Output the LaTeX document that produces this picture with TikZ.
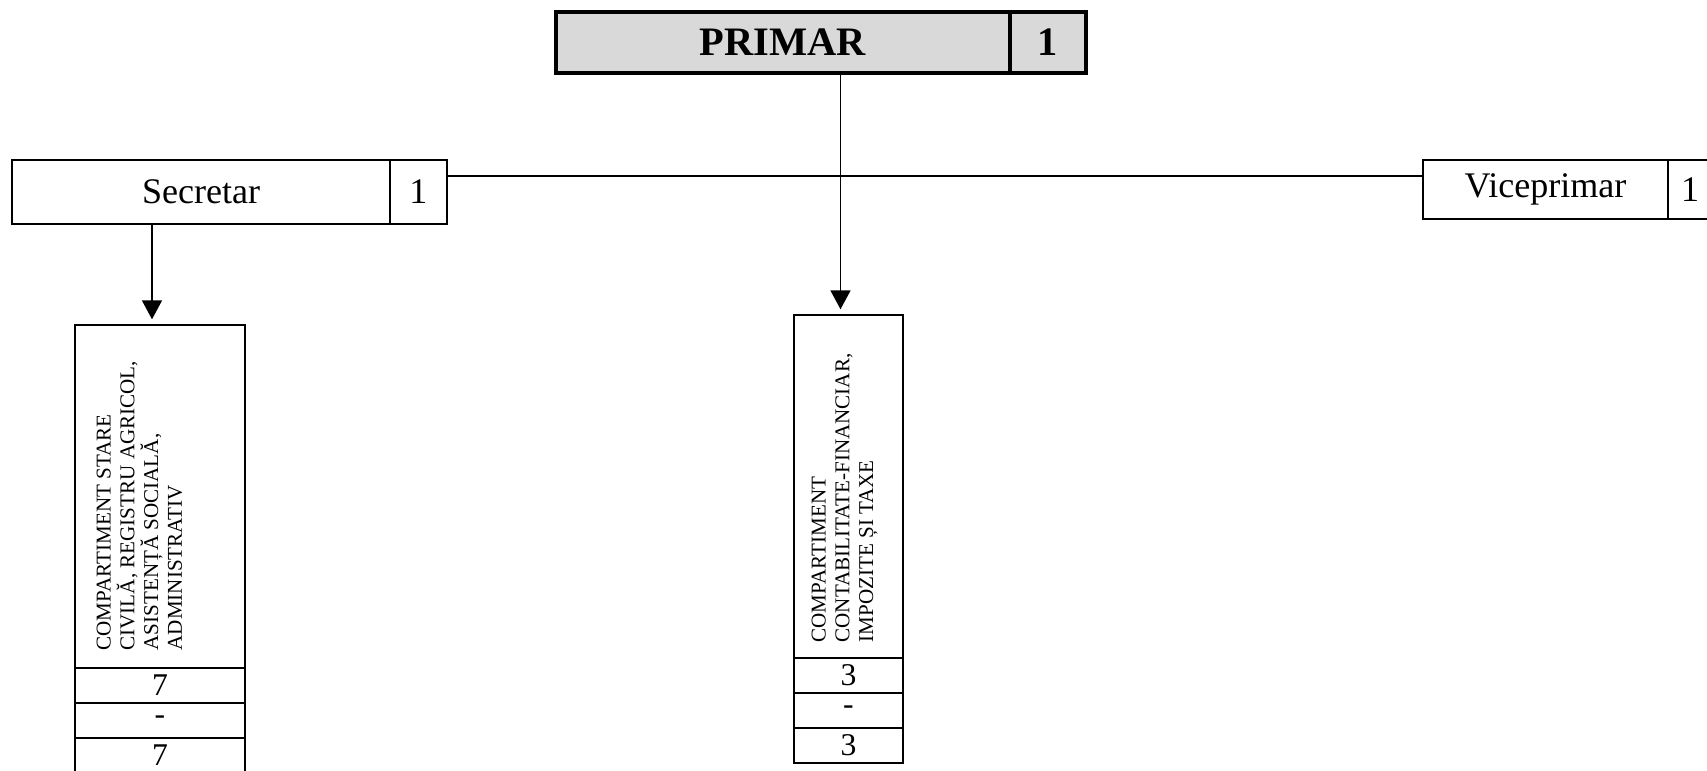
\documentclass[tikz,border=0pt]{standalone}
\usepackage{fontspec}
\setmainfont{Liberation Serif}
\usetikzlibrary{arrows.meta}
\begin{document}
\begin{tikzpicture}[
	cell/.style={draw,line width=0.8pt,inner sep=0pt},
	big/.style={font=\fontsize{20.5}{24}\selectfont},
	nr/.style={cell,minimum width=3.4cm,minimum height=0.7cm,font=\fontsize{18}{20}\selectfont},
	vtext/.style={rotate=90,anchor=north west,inner sep=0pt,align=left,font=\fontsize{12}{13.5}\selectfont},
	arr/.style={line width=1pt,-{Triangle[length=0.38cm,width=0.4cm]},shorten >=0.1cm}]
		\useasboundingbox (0,0) rectangle (34.14,-15.42);
		%PRIMAR
		\node[cell,line width=2.2pt,fill=black!15,minimum width=9.08cm,minimum height=1.22cm,font=\fontsize{23}{28}\selectfont\bfseries] (primar) at (15.66,-0.85) {PRIMAR};
		\node[cell,line width=2.2pt,fill=black!15,minimum width=1.52cm,minimum height=1.22cm,font=\fontsize{23}{28}\selectfont\bfseries] (primarnr) at (20.96,-0.85) {1};
		%Secretar si Viceprimar
		\node[cell,big,minimum width=7.56cm,minimum height=1.28cm] (sec) at (4.02,-3.84) {Secretar};
		\node[cell,big,minimum width=1.14cm,minimum height=1.28cm] (secnr) at (8.37,-3.84) {1};
		\node[cell,big,minimum width=4.9cm,minimum height=1.18cm] (vice) at (30.91,-3.79) {Viceprimar};
		\node[cell,big,minimum width=0.88cm,minimum height=1.18cm] (vicenr) at (33.8,-3.79) {1};
		\coordinate (lvl) at (0,-3.52);
		\draw[line width=0.9pt] (secnr.east |- lvl)--(vice.west |- lvl);
		%compartimente
		\node[cell,minimum width=3.4cm,minimum height=6.86cm] (comp1) at (3.2,-9.93) {};
		\node[vtext] (comp1txt) at ([xshift=0.44cm,yshift=0.36cm]comp1.south west) {COMPARTIMENT STARE\\CIVILĂ, REGISTRU AGRICOL,\\ASISTENȚĂ SOCIALĂ,\\ADMINISTRATIV};
		\node[nr] (comp1a) at (3.2,-13.71) {7};
		\node[nr] (comp1b) at (3.2,-14.41) {-};
		\node[nr] (comp1c) at (3.2,-15.11) {7};
		\node[cell,minimum width=2.18cm,minimum height=6.86cm] (comp2) at (16.97,-9.73) {};
		\node[vtext] (comp2txt) at ([xshift=0.36cm,yshift=0.32cm]comp2.south west) {COMPARTIMENT\\CONTABILITATE-FINANCIAR,\\IMPOZITE ȘI TAXE};
		\node[nr,minimum width=2.18cm] (comp2a) at (16.97,-13.51) {3};
		\node[nr,minimum width=2.18cm] (comp2b) at (16.97,-14.21) {-};
		\node[nr,minimum width=2.18cm] (comp2c) at (16.97,-14.91) {3};
		\draw[arr] ([xshift=-0.16cm]primar.south -| comp2.north)--([xshift=-0.16cm]comp2.north);
		\draw[arr] ([xshift=-0.16cm]sec.south -| comp1.north)--([xshift=-0.16cm]comp1.north);
\end{tikzpicture}
\end{document}
